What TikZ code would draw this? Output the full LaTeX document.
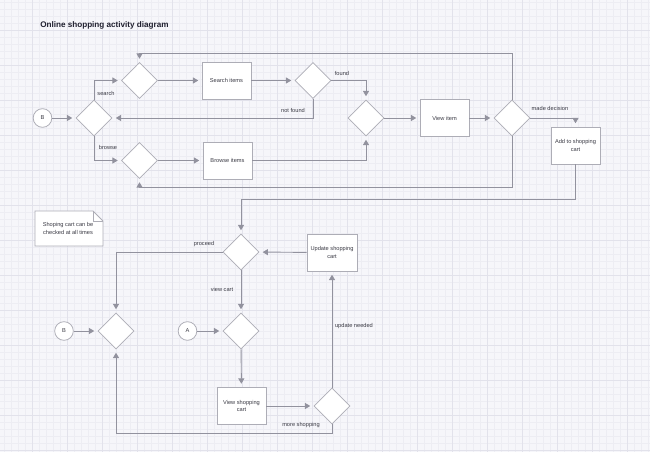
\documentclass[tikz,border=0pt]{standalone}
\usepackage{fontspec}
\setmainfont{Liberation Sans}
\usetikzlibrary{shapes.geometric,arrows.meta}
\definecolor{bg}{HTML}{F6F6FA}
\definecolor{gridminor}{HTML}{EDEDF3}
\definecolor{gridmajor}{HTML}{E2E2EB}
\definecolor{linec}{HTML}{92929E}
\definecolor{boxc}{HTML}{ADADB6}
\definecolor{txt}{HTML}{3A3A44}
\definecolor{titlec}{HTML}{1F1F2E}
\begin{document}
\begin{tikzpicture}[x=0.75pt,y=-0.75pt,
 every node/.style={font=\fontsize{4.25}{5.3}\selectfont, text=txt},
 dec/.style={diamond, draw=boxc, fill=white, minimum width=27pt, minimum height=27pt, inner sep=0pt, line width=0.6pt},
 act/.style={rectangle, draw=boxc, fill=white, minimum width=36.75pt, minimum height=27.75pt, inner sep=1pt, align=center, line width=0.6pt},
 term/.style={circle, draw=boxc, fill=white, minimum size=14pt, inner sep=0pt, line width=0.6pt},
 conn/.style={draw=linec, line width=0.7pt, -{Triangle[length=4pt,width=4.5pt]}, shorten >=2.5pt},
 lbl/.style={inner sep=0pt}]
\useasboundingbox (0,0) rectangle (650,452);
\fill[bg] (0,0) rectangle (650,452);
\foreach \x in {4,11,...,648} \draw[gridminor, line width=0.4pt] (\x,0) -- (\x,452);
\foreach \y in {2,9,...,450} \draw[gridminor, line width=0.4pt] (0,\y) -- (650,\y);
\foreach \x in {32,67,...,640} \draw[gridmajor, line width=0.7pt] (\x,0) -- (\x,452);
\foreach \y in {30,65,...,450} \draw[gridmajor, line width=0.7pt] (0,\y) -- (650,\y);

\node[anchor=west, inner sep=0pt, text=titlec, font=\fontsize{6.1}{7}\selectfont\bfseries] (title) at (40,25.5) {Online shopping activity diagram};

% top section
\node[term] (b1) at (42.5,118) {B};
\node[dec] (d1) at (94,118) {};
\node[dec] (d2) at (139.5,80.5) {};
\node[dec] (d3) at (139.5,160.5) {};
\node[act] (srch) at (226.5,80.5) {Search items};
\node[dec] (d4) at (313,80.5) {};
\node[act] (brw) at (227.5,160.5) {Browse items};
\node[dec] (d5) at (366,118) {};
\node[act] (view) at (444.5,118) {View item};
\node[dec] (d6) at (512,118) {};
\node[act] (add) at (575.5,145.5) {Add to shopping\\cart};

% note
\draw[boxc, fill=white, line width=0.6pt] (35,211) -- (93,211) -- (103,221) -- (103,246) -- (35,246) -- cycle;
\draw[boxc, line width=0.6pt] (93,211) -- (93,221) -- (103,221);
\node[align=center] (note) at (68,228.5) {Shoping cart can be\\checked at all times};

% bottom section
\node[dec] (d7) at (241,252) {};
\node[act, minimum width=37.5pt] (upd) at (332,252.5) {Update shopping\\cart};
\node[dec] (d8) at (116,331) {};
\node[term] (b2) at (64,331) {B};
\node[term] (a1) at (187.5,331) {A};
\node[dec] (d9) at (241,331) {};
\node[act] (vsc) at (241.5,406) {View shopping\\cart};
\node[dec] (d10) at (332,406) {};

% connectors
\draw[conn] (b1) -- (d1);
\draw[conn] (d1.north) |- (d2.west);
\draw[conn] (d1.south) |- (d3.west);
\draw[conn] (d2) -- (srch);
\draw[conn] (srch) -- (d4);
\draw[conn] (d4.south) |- (d1.east);
\draw[conn] (d4.east) -| (d5.north);
\draw[conn] (d3) -- (brw);
\draw[conn] (brw.east) -| (d5.south);
\draw[conn] (d5) -- (view);
\draw[conn] (view) -- (d6);
\draw[conn] (d6.north) -- ++(0,-46) -| (d2.north);
\draw[conn] (d6.south) -- ++(0,51) -| (d3.south);
\draw[conn] (d6.east) -| (add.north);
\draw[conn] (add.south) -- ++(0,35) -| (d7.north);
\draw[conn] (upd) -- (d7);
\draw[conn] (d7.west) -| (d8.north);
\draw[conn] (b2) -- (d8);
\draw[conn] (d7) -- (d9);
\draw[conn] (a1) -- (d9);
\draw[conn] (d9) -- (vsc);
\draw[conn] (vsc) -- (d10);
\draw[conn] (d10) -- (upd);
\draw[conn] (d10.south) -- ++(0,9) -| (d8.south);

% labels
\node[lbl] (lsearch) at (106,93) {search};
\node[lbl] (lbrowse) at (108,147) {browse};
\node[lbl] (lnotfound) at (293,110) {not found};
\node[lbl] (lfound) at (342,73) {found};
\node[lbl] (lmade) at (550,108.5) {made decision};
\node[lbl] (lproceed) at (204,244) {proceed};
\node[lbl] (lview) at (222,289) {view cart};
\node[lbl] (lupd) at (354,326) {update needed};
\node[lbl] (lmore) at (301,425) {more shopping};
\end{tikzpicture}
\end{document}
